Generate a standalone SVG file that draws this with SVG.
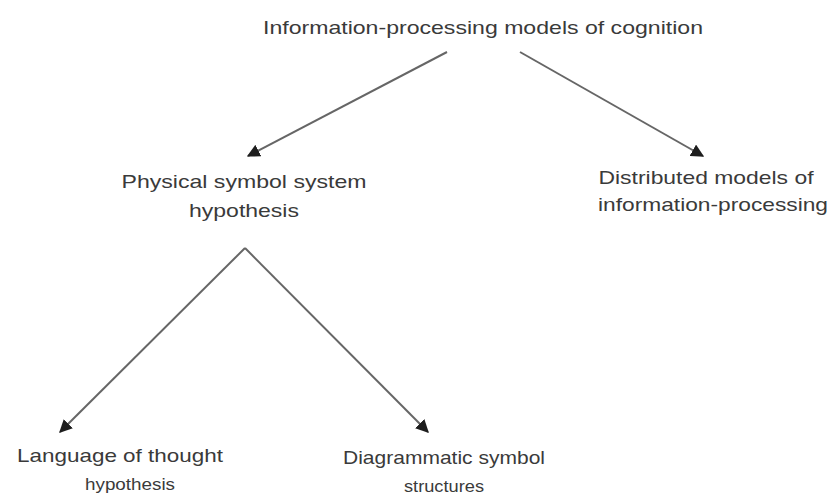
<svg xmlns="http://www.w3.org/2000/svg" width="831" height="496" viewBox="0 0 831 496">
<style>
text{font-family:"Liberation Sans",Arial,sans-serif;font-size:19px;fill:#3a3a3a;text-anchor:middle}
text.s{font-size:16px}
.c line{stroke:#666;stroke-width:2;marker-end:url(#ah)}
</style>
<defs>
<marker id="ah" viewBox="0 0 10 10" refX="9" refY="5" markerWidth="6.5" markerHeight="6.5" orient="auto" markerUnits="strokeWidth">
<path d="M0,0 L10,5 L0,10 z" fill="#1e1e1e"/>
</marker>
</defs>
<rect width="831" height="496" fill="#fff"/>
<g id="n-root"><text x="483" y="34" textLength="440" lengthAdjust="spacingAndGlyphs">Information-processing models of cognition</text></g>
<g id="n-pssh"><text x="244" y="188" textLength="245" lengthAdjust="spacingAndGlyphs">Physical symbol system</text><text x="244" y="217" textLength="110" lengthAdjust="spacingAndGlyphs">hypothesis</text></g>
<g id="n-dist"><text x="706" y="184" textLength="215" lengthAdjust="spacingAndGlyphs">Distributed models of</text><text x="713" y="211" textLength="230" lengthAdjust="spacingAndGlyphs">information-processing</text></g>
<g id="n-lot"><text x="120" y="462" textLength="206" lengthAdjust="spacingAndGlyphs">Language of thought</text><text class="s" x="130" y="490" textLength="90" lengthAdjust="spacingAndGlyphs">hypothesis</text></g>
<g id="n-diag"><text x="444" y="464" textLength="202" lengthAdjust="spacingAndGlyphs">Diagrammatic symbol</text><text class="s" x="444" y="492" textLength="80" lengthAdjust="spacingAndGlyphs">structures</text></g>
<g class="c" id="connectors">
<line x1="447" y1="52" x2="248" y2="156"/>
<line x1="520" y1="52" x2="703" y2="156"/>
<line x1="245" y1="248" x2="60" y2="432"/>
<line x1="245" y1="248" x2="428" y2="432"/>
</g>
</svg>
